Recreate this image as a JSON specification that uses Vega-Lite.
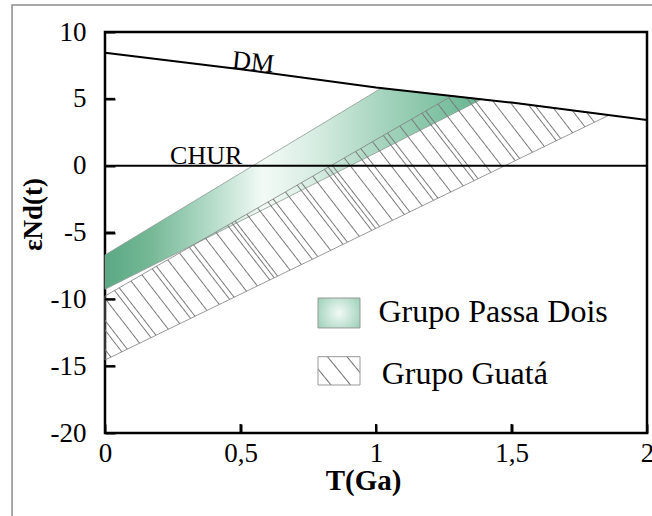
{
  "$schema": "https://vega.github.io/schema/vega-lite/v6.json",
  "width": 542,
  "height": 401,
  "autosize": "none",
  "padding": {"left": 105, "top": 32, "right": 5, "bottom": 83},
  "background": "white",
  "config": {
    "view": {"stroke": "black", "strokeWidth": 2.5},
    "font": "'Liberation Serif', 'Times New Roman', serif",
    "text": {"font": "'Liberation Serif', 'Times New Roman', serif"},
    "axis": {
      "labelFont": "'Liberation Serif', 'Times New Roman', serif", "labelFontSize": 27, "labelColor": "black",
      "titleFont": "'Liberation Serif', 'Times New Roman', serif", "titleColor": "black",
      "ticks": true, "tickColor": "#000000", "tickOpacity": 1, "tickWidth": 2, "grid": false, "domain": false, "zindex": 1
    }
  },
  "layer": [
    {
      "data": {"values": [
        {"T": 0, "e": -6.68, "e2": -9.25},
        {"T": 1.02, "e": 5.8, "e2": 1.17},
        {"T": 1.39, "e": 4.97, "e2": 4.97}
      ]},
      "mark": {"type": "area", "stroke": "#8a9a92", "strokeWidth": 0.8,
        "fill": {"gradient": "linear", "x1": 0, "y1": 0, "x2": 1, "y2": 0, "stops": [
          {"offset": 0, "color": "#5aa984"},
          {"offset": 0.12, "color": "#75b896"},
          {"offset": 0.28, "color": "#b3dbc8"},
          {"offset": 0.42, "color": "#f3faf6"},
          {"offset": 0.56, "color": "#d6ece1"},
          {"offset": 0.75, "color": "#a2d2bb"},
          {"offset": 0.9, "color": "#7ec1a2"},
          {"offset": 1, "color": "#66b490"}
        ]}},
      "encoding": {
        "x": {"field": "T", "type": "quantitative",
          "scale": {"domain": [0, 2], "nice": false, "zero": false},
          "axis": {"values": [0, 0.5, 1, 1.5, 2], "labelExpr": "replace(toString(datum.value), '.', ',')",
            "title": "T(Ga)", "titleX": 258, "titleY": 65, "titleAlign": "center", "titleBaseline": "alphabetic",
            "titleFontSize": 29, "titleFontWeight": "bold", "offset": -9, "ticks": true, "tickSize": 9,
            "tickColor": "#000000", "tickWidth": 2, "labelPadding": 7,
            "labelFlush": false, "labelOverlap": false}},
        "y": {"field": "e", "type": "quantitative",
          "scale": {"domain": [-20, 10], "nice": false, "zero": false},
          "axis": {"values": [-20, -15, -10, -5, 0, 5, 10], "labelExpr": "toString(datum.value)",
            "title": "εNd(t)", "titleAngle": -90, "titleX": -74, "titleY": 182, "titleAlign": "center",
            "titleBaseline": "alphabetic", "titleFontSize": 27, "titleFontWeight": "bold",
            "offset": -10, "ticks": true, "tickSize": 10, "tickColor": "#000000", "tickWidth": 2,
            "labelPadding": 19, "labelFlush": false, "labelOverlap": false}},
        "y2": {"field": "e2"}
      }
    },
    {
      "data": {"values": [
        {"T": 0, "e": -9.75, "e2": -14.54},
        {"T": 1.28, "e": 5.22, "e2": -1.93},
        {"T": 1.5, "e": 4.72, "e2": 0.24},
        {"T": 1.86, "e": 3.78, "e2": 3.78}
      ]},
      "mark": {"type": "area", "stroke": "#808080", "strokeWidth": 0.8,
        "fill": {"gradient": "linear", "x1": 0, "y1": 1, "x2": 1.16, "y2": 0.53, "stops": [
          {"offset":0.0102,"color":"#78787800"},{"offset":0.012,"color":"#787878"},{"offset":0.0138,"color":"#78787800"},
          {"offset":0.0322,"color":"#78787800"},{"offset":0.034,"color":"#787878"},{"offset":0.0358,"color":"#78787800"},
          {"offset":0.0432,"color":"#78787800"},{"offset":0.045,"color":"#787878"},{"offset":0.0468,"color":"#78787800"},
          {"offset":0.0682,"color":"#78787800"},{"offset":0.070,"color":"#787878"},{"offset":0.0718,"color":"#78787800"},
          {"offset":0.0912,"color":"#78787800"},{"offset":0.093,"color":"#787878"},{"offset":0.0948,"color":"#78787800"},
          {"offset":0.1012,"color":"#78787800"},{"offset":0.103,"color":"#787878"},{"offset":0.1048,"color":"#78787800"},
          {"offset":0.1262,"color":"#78787800"},{"offset":0.128,"color":"#787878"},{"offset":0.1298,"color":"#78787800"},
          {"offset":0.1492,"color":"#78787800"},{"offset":0.151,"color":"#787878"},{"offset":0.1528,"color":"#78787800"},
          {"offset":0.1712,"color":"#78787800"},{"offset":0.173,"color":"#787878"},{"offset":0.1748,"color":"#78787800"},
          {"offset":0.1802,"color":"#78787800"},{"offset":0.182,"color":"#787878"},{"offset":0.1838,"color":"#78787800"},
          {"offset":0.2042,"color":"#78787800"},{"offset":0.206,"color":"#787878"},{"offset":0.2078,"color":"#78787800"},
          {"offset":0.2292,"color":"#78787800"},{"offset":0.231,"color":"#787878"},{"offset":0.2328,"color":"#78787800"},
          {"offset":0.2502,"color":"#78787800"},{"offset":0.252,"color":"#787878"},{"offset":0.2538,"color":"#78787800"},
          {"offset":0.2592,"color":"#78787800"},{"offset":0.261,"color":"#787878"},{"offset":0.2628,"color":"#78787800"},
          {"offset":0.2842,"color":"#78787800"},{"offset":0.286,"color":"#787878"},{"offset":0.2878,"color":"#78787800"},
          {"offset":0.3062,"color":"#78787800"},{"offset":0.308,"color":"#787878"},{"offset":0.3098,"color":"#78787800"},
          {"offset":0.3312,"color":"#78787800"},{"offset":0.333,"color":"#787878"},{"offset":0.3348,"color":"#78787800"},
          {"offset":0.3402,"color":"#78787800"},{"offset":0.342,"color":"#787878"},{"offset":0.3438,"color":"#78787800"},
          {"offset":0.3472,"color":"#78787800"},{"offset":0.349,"color":"#787878"},{"offset":0.3508,"color":"#78787800"},
          {"offset":0.3722,"color":"#78787800"},{"offset":0.374,"color":"#787878"},{"offset":0.3758,"color":"#78787800"},
          {"offset":0.3952,"color":"#78787800"},{"offset":0.397,"color":"#787878"},{"offset":0.3988,"color":"#78787800"},
          {"offset":0.4172,"color":"#78787800"},{"offset":0.419,"color":"#787878"},{"offset":0.4208,"color":"#78787800"},
          {"offset":0.4282,"color":"#78787800"},{"offset":0.430,"color":"#787878"},{"offset":0.4318,"color":"#78787800"},
          {"offset":0.4542,"color":"#78787800"},{"offset":0.456,"color":"#787878"},{"offset":0.4578,"color":"#78787800"},
          {"offset":0.4792,"color":"#78787800"},{"offset":0.481,"color":"#787878"},{"offset":0.4828,"color":"#78787800"},
          {"offset":0.4882,"color":"#78787800"},{"offset":0.490,"color":"#787878"},{"offset":0.4918,"color":"#78787800"},
          {"offset":0.5122,"color":"#78787800"},{"offset":0.514,"color":"#787878"},{"offset":0.5158,"color":"#78787800"},
          {"offset":0.5372,"color":"#78787800"},{"offset":0.539,"color":"#787878"},{"offset":0.5408,"color":"#78787800"},
          {"offset":0.5452,"color":"#78787800"},{"offset":0.547,"color":"#787878"},{"offset":0.5488,"color":"#78787800"},
          {"offset":0.5532,"color":"#78787800"},{"offset":0.555,"color":"#787878"},{"offset":0.5568,"color":"#78787800"},
          {"offset":0.5792,"color":"#78787800"},{"offset":0.581,"color":"#787878"},{"offset":0.5828,"color":"#78787800"},
          {"offset":0.6032,"color":"#78787800"},{"offset":0.605,"color":"#787878"},{"offset":0.6068,"color":"#78787800"},
          {"offset":0.6142,"color":"#78787800"},{"offset":0.616,"color":"#787878"},{"offset":0.6178,"color":"#78787800"},
          {"offset":0.6392,"color":"#78787800"},{"offset":0.641,"color":"#787878"},{"offset":0.6428,"color":"#78787800"},
          {"offset":0.6622,"color":"#78787800"},{"offset":0.664,"color":"#787878"},{"offset":0.6658,"color":"#78787800"},
          {"offset":0.6712,"color":"#78787800"},{"offset":0.673,"color":"#787878"},{"offset":0.6748,"color":"#78787800"},
          {"offset":0.6972,"color":"#78787800"},{"offset":0.699,"color":"#787878"},{"offset":0.7008,"color":"#78787800"},
          {"offset":0.7222,"color":"#78787800"},{"offset":0.724,"color":"#787878"},{"offset":0.7258,"color":"#78787800"},
          {"offset":0.7442,"color":"#78787800"},{"offset":0.746,"color":"#787878"},{"offset":0.7478,"color":"#78787800"},
          {"offset":0.7522,"color":"#78787800"},{"offset":0.754,"color":"#787878"},{"offset":0.7558,"color":"#78787800"},
          {"offset":0.7782,"color":"#78787800"},{"offset":0.780,"color":"#787878"},{"offset":0.7818,"color":"#78787800"},
          {"offset":0.8012,"color":"#78787800"},{"offset":0.803,"color":"#787878"},{"offset":0.8048,"color":"#78787800"},
          {"offset":0.8272,"color":"#78787800"},{"offset":0.829,"color":"#787878"},{"offset":0.8308,"color":"#78787800"},
          {"offset":0.8362,"color":"#78787800"},{"offset":0.838,"color":"#787878"},{"offset":0.8398,"color":"#78787800"},
          {"offset":0.8622,"color":"#78787800"},{"offset":0.864,"color":"#787878"},{"offset":0.8658,"color":"#78787800"},
          {"offset":0.8862,"color":"#78787800"},{"offset":0.888,"color":"#787878"},{"offset":0.8898,"color":"#78787800"},
          {"offset":0.9102,"color":"#78787800"},{"offset":0.912,"color":"#787878"},{"offset":0.9138,"color":"#78787800"},
          {"offset":0.9192,"color":"#78787800"},{"offset":0.921,"color":"#787878"},{"offset":0.9228,"color":"#78787800"},
          {"offset":0.9432,"color":"#78787800"},{"offset":0.945,"color":"#787878"},{"offset":0.9468,"color":"#78787800"},
          {"offset":0.9682,"color":"#78787800"},{"offset":0.970,"color":"#787878"},{"offset":0.9718,"color":"#78787800"},
          {"offset":0.9872,"color":"#78787800"},{"offset":0.989,"color":"#787878"},{"offset":0.9908,"color":"#78787800"}
        ]}},
      "encoding": {
        "x": {"field": "T", "type": "quantitative"},
        "y": {"field": "e", "type": "quantitative"},
        "y2": {"field": "e2"}
      }
    },
    {
      "data": {"values": [{}]},
      "mark": {"type": "rule", "color": "black", "strokeWidth": 2},
      "encoding": {"y": {"datum": 0}}
    },
    {
      "data": {"values": [
        {"T": 0, "e": 8.45}, {"T": 0.5, "e": 7.22}, {"T": 1, "e": 5.85}, {"T": 1.5, "e": 4.72}, {"T": 2, "e": 3.42}
      ]},
      "mark": {"type": "line", "color": "black", "strokeWidth": 2},
      "encoding": {
        "x": {"field": "T", "type": "quantitative"},
        "y": {"field": "e", "type": "quantitative"}
      }
    },
    {
      "data": {"values": [{"T": 0.5}, {"T": 1}, {"T": 1.5}]},
      "mark": {"type": "rule", "color": "black", "strokeWidth": 2},
      "encoding": {
        "x": {"field": "T", "type": "quantitative"},
        "y": {"datum": -20}, "y2": {"datum": -19.33}
      }
    },
    {
      "data": {"values": [{"e": 5}, {"e": -5}, {"e": -10}, {"e": -15}]},
      "mark": {"type": "rule", "color": "black", "strokeWidth": 2},
      "encoding": {
        "y": {"field": "e", "type": "quantitative"},
        "x": {"datum": 0}, "x2": {"datum": 0.037}
      }
    },
    {
      "data": {"values": [{"label": "CHUR", "T": 0.24, "e": 0}]},
      "mark": {"type": "text", "align": "left", "baseline": "alphabetic", "dy": -2, "fontSize": 26, "color": "black"},
      "encoding": {
        "x": {"field": "T", "type": "quantitative"},
        "y": {"field": "e", "type": "quantitative"},
        "text": {"field": "label"}
      }
    },
    {
      "data": {"values": [{"label": "DM", "T": 0.467, "e": 7.3}]},
      "mark": {"type": "text", "align": "left", "baseline": "alphabetic", "angle": 6, "fontSize": 26, "color": "black"},
      "encoding": {
        "x": {"field": "T", "type": "quantitative"},
        "y": {"field": "e", "type": "quantitative"},
        "text": {"field": "label"}
      }
    },
    {
      "data": {"values": [{}]},
      "mark": {"type": "rect", "stroke": "#999999", "strokeWidth": 1,
        "fill": {"gradient": "radial", "x1": 0.5, "y1": 0.5, "r1": 0, "x2": 0.5, "y2": 0.5, "r2": 0.75, "stops": [
          {"offset": 0, "color": "#f2faf6"},
          {"offset": 1, "color": "#86c6a8"}
        ]}},
      "encoding": {
        "x": {"datum": 0.786}, "x2": {"datum": 0.941},
        "y": {"datum": -9.9}, "y2": {"datum": -12.14}
      }
    },
    {
      "data": {"values": [{}]},
      "mark": {"type": "rect", "stroke": "#999999", "strokeWidth": 1,
        "fill": {"gradient": "linear", "x1": 0, "y1": 1, "x2": 1.19, "y2": 0.345, "stops": [
          {"offset": 0.18, "color": "#ffffff"}, {"offset": 0.2, "color": "#707070"}, {"offset": 0.22, "color": "#ffffff"},
          {"offset": 0.48, "color": "#ffffff"}, {"offset": 0.5, "color": "#707070"}, {"offset": 0.52, "color": "#ffffff"},
          {"offset": 0.78, "color": "#ffffff"}, {"offset": 0.8, "color": "#707070"}, {"offset": 0.82, "color": "#ffffff"}
        ]}},
      "encoding": {
        "x": {"datum": 0.786}, "x2": {"datum": 0.941},
        "y": {"datum": -14.29}, "y2": {"datum": -16.41}
      }
    },
    {
      "data": {"values": [
        {"label": "Grupo Passa Dois", "T": 1.009, "e": -11.67},
        {"label": "Grupo Guatá", "T": 1.021, "e": -16.36}
      ]},
      "mark": {"type": "text", "align": "left", "baseline": "alphabetic", "fontSize": 32, "color": "black"},
      "encoding": {
        "x": {"field": "T", "type": "quantitative"},
        "y": {"field": "e", "type": "quantitative"},
        "text": {"field": "label"}
      }
    },
    {
      "data": {"values": [{}]},
      "mark": {"type": "rect", "fillOpacity": 0, "stroke": "#8c8c8c", "strokeWidth": 1.5, "clip": false},
      "encoding": {
        "x": {"datum": -0.343}, "x2": {"datum": 2.5},
        "y": {"datum": 12.02}, "y2": {"datum": -30}
      }
    }
  ]
}
